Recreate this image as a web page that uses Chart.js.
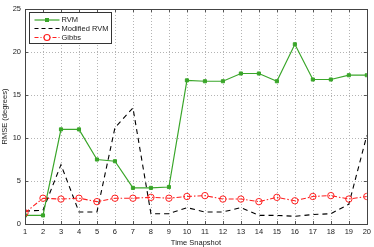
<!DOCTYPE html>
<html><head><meta charset="utf-8">
<script src="https://cdn.jsdelivr.net/npm/chart.js"></script>
<style>html,body{margin:0;padding:0;background:#fff}#wrap{width:374px;height:247px}</style>
</head><body><div id="wrap"><canvas id="c" width="374" height="247"></canvas></div>
<script>
const snapshots = [1,2,3,4,5,6,7,8,9,10,11,12,13,14,15,16,17,18,19,20];
const rvm = [1.0,1.0,11.0,11.0,7.5,7.3,4.2,4.2,4.3,16.7,16.6,16.6,17.5,17.5,16.6,20.9,16.8,16.8,17.3,17.3];
const modRvm = [1.5,1.6,6.9,1.4,1.4,11.2,13.5,1.2,1.2,1.9,1.4,1.4,1.9,1.0,1.0,0.9,1.1,1.2,2.3,10.3];
const gibbs = [1.3,3.0,2.9,3.0,2.6,3.0,3.0,3.1,3.0,3.2,3.3,2.9,2.9,2.6,3.1,2.7,3.2,3.3,2.9,3.2];
const yTicks = [0,5,10,15,20,25];
const seriesNames = ['RVM','Modified RVM','Gibbs'];

const FONT = 'Liberation Sans, Arial, sans-serif';
const pts = arr => arr.map((v,i)=>({x:snapshots[i], y:v}));
const GREEN = '#3aa62a', RED = '#ff2020';

const frame = {
  id:'frame',
  beforeDatasetsDraw(chart){
    const {ctx, chartArea:a, scales:{x,y}} = chart;
    ctx.save();
    ctx.strokeStyle = '#b4b4b4'; ctx.lineWidth = 1; ctx.setLineDash([1,2]);
    ctx.beginPath();
    snapshots.forEach(v=>{const px=Math.round(x.getPixelForValue(v))+0.5;
      ctx.moveTo(px,a.top); ctx.lineTo(px,a.bottom);});
    yTicks.forEach(v=>{const py=Math.round(y.getPixelForValue(v))+0.5;
      ctx.moveTo(a.left,py); ctx.lineTo(a.right,py);});
    ctx.stroke();
    ctx.restore();
  },
  afterDraw(chart){
    const {ctx, chartArea:a, scales:{x,y}} = chart;
    ctx.save();
    ctx.strokeStyle = '#555'; ctx.lineWidth = 1;
    ctx.beginPath();
    snapshots.forEach(v=>{const px=Math.round(x.getPixelForValue(v))+0.5;
      ctx.moveTo(px,a.bottom); ctx.lineTo(px,a.bottom-3);
      ctx.moveTo(px,a.top); ctx.lineTo(px,a.top+3);});
    yTicks.forEach(v=>{const py=Math.round(y.getPixelForValue(v))+0.5;
      ctx.moveTo(a.left,py); ctx.lineTo(a.left+3,py);
      ctx.moveTo(a.right,py); ctx.lineTo(a.right-3,py);});
    ctx.stroke();
    ctx.strokeStyle = '#444';
    ctx.strokeRect(Math.round(a.left)+0.5, Math.round(a.top)+0.5, Math.round(a.right-a.left), Math.round(a.bottom-a.top));
    // legend
    const lx = a.left+4.5, ly = a.top+3.5, lw = 82, lh = 31;
    ctx.fillStyle='#fff'; ctx.fillRect(lx,ly,lw,lh);
    ctx.strokeStyle='#333'; ctx.strokeRect(lx,ly,lw,lh);
    const rows = [ly+7.5, ly+16, ly+25];
    ctx.font = '7.5px '+FONT; ctx.textBaseline='middle'; ctx.fillStyle='#222';
    const x0 = lx+5, x1 = lx+30;
    ctx.strokeStyle=GREEN; ctx.lineWidth=1.2; ctx.setLineDash([]);
    ctx.beginPath(); ctx.moveTo(x0,rows[0]); ctx.lineTo(x1,rows[0]); ctx.stroke();
    ctx.fillStyle=GREEN; ctx.fillRect((x0+x1)/2-2, rows[0]-2, 4, 4);
    ctx.strokeStyle='#000'; ctx.setLineDash([4,3]);
    ctx.beginPath(); ctx.moveTo(x0,rows[1]); ctx.lineTo(x1,rows[1]); ctx.stroke();
    ctx.strokeStyle=RED; ctx.setLineDash([4,2,1,2]);
    ctx.beginPath(); ctx.moveTo(x0,rows[2]); ctx.lineTo(x1,rows[2]); ctx.stroke();
    ctx.setLineDash([]); ctx.fillStyle='#fff';
    ctx.beginPath(); ctx.arc((x0+x1)/2, rows[2], 3, 0, Math.PI*2); ctx.fill(); ctx.stroke();
    ctx.fillStyle='#222';
    seriesNames.forEach((n,i)=>ctx.fillText(n, x1+2, rows[i]));
    ctx.restore();
  }
};

new Chart(document.getElementById('c'), {
  type:'line',
  data:{datasets:[
    {label:seriesNames[0], data:pts(rvm), borderColor:GREEN, backgroundColor:GREEN, borderWidth:1.2,
     pointStyle:'rect', pointRadius:2.2, pointBorderWidth:1, order:1},
    {label:seriesNames[1], data:pts(modRvm), borderColor:'#000', borderWidth:1.1, borderDash:[5,4],
     pointRadius:0, order:2},
    {label:seriesNames[2], data:pts(gibbs), borderColor:RED, backgroundColor:'rgba(0,0,0,0)', borderWidth:1.1,
     borderDash:[5,2,1.5,2], pointStyle:'circle', pointRadius:3.2, pointBorderWidth:1, order:0}
  ]},
  options:{
    responsive:false, animation:false, devicePixelRatio:1,
    layout:{padding:{top:9, right:7, left:0, bottom:0}},
    plugins:{legend:{display:false}, tooltip:{enabled:false}},
    elements:{line:{tension:0}},
    scales:{
      x:{type:'linear', min:1, max:20, afterBuildTicks:s=>{s.ticks=snapshots.map(v=>({value:v}));},
         afterFit:s=>{s.height=23;},
         grid:{color:'rgba(0,0,0,0)', drawTicks:false, tickLength:0},
         border:{display:false},
         ticks:{font:{family:FONT,size:7.5}, color:'#222', padding:3, maxRotation:0, autoSkip:false},
         title:{display:true, text:'Time Snapshot', font:{family:FONT,size:7.5}, color:'#222', padding:{top:0,bottom:0}}},
      y:{min:0, max:25, afterBuildTicks:s=>{s.ticks=yTicks.map(v=>({value:v}));},
         afterFit:s=>{s.width=25;},
         grid:{color:'rgba(0,0,0,0)', drawTicks:false, tickLength:0},
         border:{display:false},
         ticks:{font:{family:FONT,size:7.5}, color:'#222', padding:4},
         title:{display:true, text:'RMSE (degrees)', font:{family:FONT,size:7.5}, color:'#222', padding:{top:0,bottom:2}}}
    }
  },
  plugins:[frame]
});
</script></body></html>
